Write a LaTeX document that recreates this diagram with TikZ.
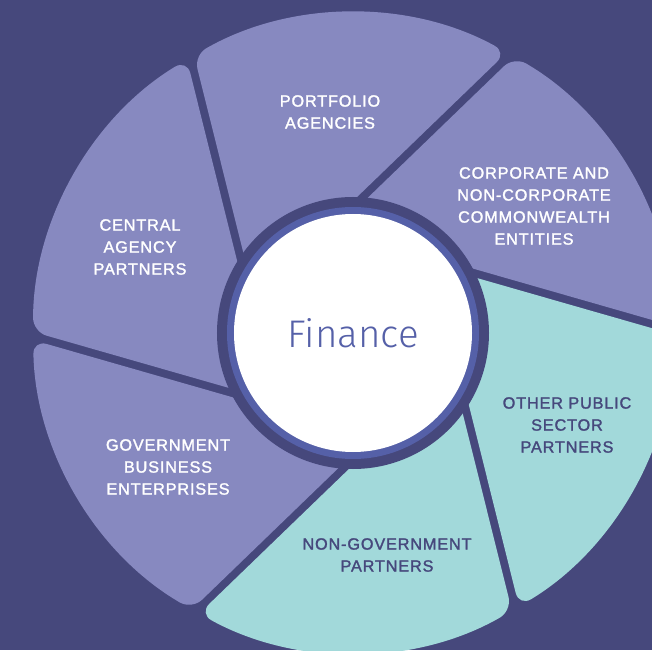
\documentclass[tikz,border=0pt]{standalone}
\usepackage{fontspec}
\setmainfont{Liberation Sans}
\newfontfamily\lightfont{Fira Sans Light}
\usepackage{tikz}
\usetikzlibrary{positioning}
\definecolor{fnbg}{RGB}{70,72,124}
\definecolor{fnlav}{RGB}{135,137,192}
\definecolor{fnteal}{RGB}{162,217,218}
\definecolor{fnblue}{RGB}{85,96,168}
\tikzstyle{segment} = [rounded corners=14pt]
\tikzstyle{seglabel} = [align=center, inner sep=0pt, font=\fontsize{16.3}{22}\selectfont\addfontfeatures{LetterSpace=5,FakeBold=1.6}]

\begin{document}
\begin{tikzpicture}[x=1pt,y=1pt]
% Page
\clip (-353,-317) rectangle (299,333);
\fill[fnbg] (-353,-317) rectangle (299,333);

% Segments
\fill[fnlav, segment] (74:95) -- (1.27:320) arc[start angle=1.27, end angle=59.78, radius=320] -- (134:87) -- cycle;
\fill[fnlav, segment] (134:95) -- (61.27:320) arc[start angle=61.27, end angle=119.78, radius=320] -- (194:87) -- cycle;
\fill[fnlav, segment] (194:95) -- (121.27:320) arc[start angle=121.27, end angle=179.78, radius=320] -- (254:87) -- cycle;
\fill[fnlav, segment] (254:95) -- (181.27:320) arc[start angle=181.27, end angle=239.78, radius=320] -- (314:87) -- cycle;
\fill[fnteal, segment] (314:95) -- (241.27:320) arc[start angle=241.27, end angle=299.78, radius=320] -- (14:87) -- cycle;
\fill[fnteal, segment] (14:95) -- (301.27:320) arc[start angle=301.27, end angle=359.78, radius=320] -- (74:87) -- cycle;

% Centre
\fill[fnbg] (0,0) circle[radius=136];
\fill[fnblue] (0,0) circle[radius=126];
\node[circle, fill=white, minimum size=238pt, inner sep=0pt, text=fnblue, font=\lightfont\fontsize{38.5}{40}\selectfont] (finance) at (0,0) {Finance};

% Labels
\node[seglabel, text=white] (portfolio) at (-23,221) {PORTFOLIO\\AGENCIES};
\node[seglabel, text=white] (corporate) at (181,127) {CORPORATE AND\\NON-CORPORATE\\COMMONWEALTH\\ENTITIES};
\node[seglabel, text=white] (central) at (-213,86) {CENTRAL\\AGENCY\\PARTNERS};
\node[seglabel, text=white] (business) at (-185,-134) {GOVERNMENT\\BUSINESS\\ENTERPRISES};
\node[seglabel, text=fnbg] (nongov) at (34,-222) {NON-GOVERNMENT\\PARTNERS};
\node[seglabel, text=fnbg] (public) at (214,-92) {OTHER PUBLIC\\SECTOR\\PARTNERS};
\end{tikzpicture}
\end{document}
